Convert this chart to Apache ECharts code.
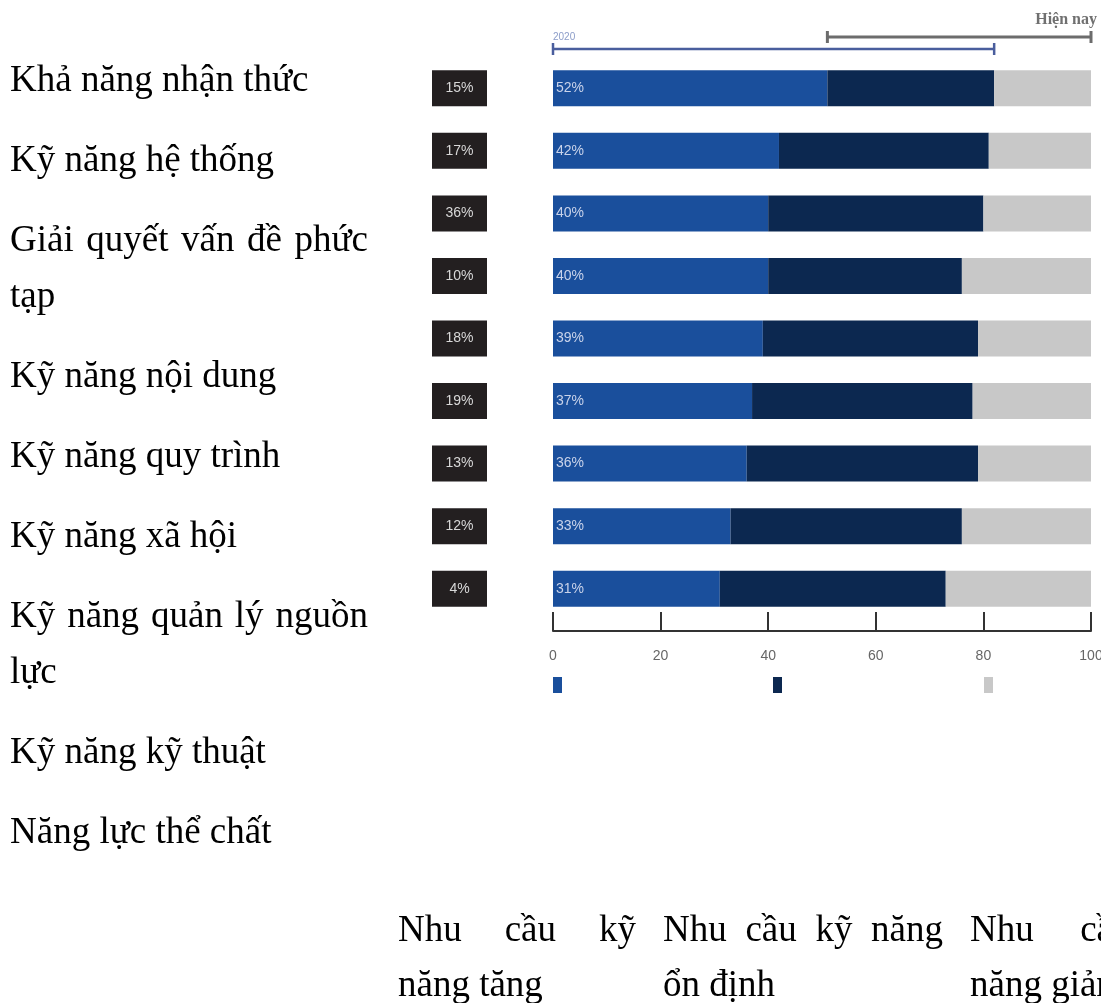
<!DOCTYPE html>
<html>
<head>
<meta charset="utf-8">
<script src="https://cdn.jsdelivr.net/npm/echarts@6/dist/echarts.min.js"></script>
<style>
  html, body { margin: 0; padding: 0; background: #fff; }
  #chart { width: 1101px; height: 1003px; }
</style>
</head>
<body>
<div id="chart"></div>
<script>
// skills, top to bottom (line breaks as in the source document)
var skills = [
    'Khả năng nhận thức',
    'Kỹ năng hệ thống',
    'Giải quyết vấn đề phức\ntạp',
    'Kỹ năng nội dung',
    'Kỹ năng quy trình',
    'Kỹ năng xã hội',
    'Kỹ năng quản lý nguồn\nlực',
    'Kỹ năng kỹ thuật',
    'Năng lực thể chất'
];

// bar rows (top to bottom)
var increase = [51, 42, 40, 40, 39, 37, 36, 33, 31];
var increaseLabels = ['52%', '42%', '40%', '40%', '39%', '37%', '36%', '33%', '31%'];
var stable = [31, 39, 40, 36, 40, 41, 43, 43, 42];
var decrease = [18, 19, 20, 24, 21, 22, 21, 24, 27];
var boxLabels = ['15%', '17%', '36%', '10%', '18%', '19%', '13%', '12%', '4%'];

var seriesNames = ['Nhu cầu kỹ năng tăng', 'Nhu cầu kỹ năng ổn định', 'Nhu cầu kỹ năng giảm'];
var legendTexts = ['Nhu cầu kỹ\nnăng tăng', 'Nhu cầu kỹ năng\nổn định', 'Nhu cầu kỹ\nnăng giảm'];

var xTicks = [0, 20, 40, 60, 80, 100];
var range2020 = [0, 82];
var rangeNow = [51, 100];

var colors = ['#1a4f9c', '#0c2850', '#c8c8c8'];
var serif = '"Liberation Serif", "Times New Roman", serif';
var narrow = '"Liberation Sans Narrow", "Arial Narrow", "Liberation Sans", Arial, sans-serif';

var chart = echarts.init(document.getElementById('chart'));

var measureCtx = document.createElement('canvas').getContext('2d');

// write a paragraph, justified except its last line
function paragraph (text, x, y, width, lineGap, fontSize) {
    var font = fontSize + 'px ' + serif;
    measureCtx.font = font;
    var out = [];
    var lines = text.split('\n');
    lines.forEach(function (line, li) {
        var ly = y + li * lineGap;
        var words = line.split(' ');
        if (li === lines.length - 1 || words.length < 2) {
            out.push({
                type: 'text', x: x, y: ly, silent: true,
                style: { text: line, font: font, fill: '#000', verticalAlign: 'middle' }
            });
            return;
        }
        var total = 0;
        words.forEach(function (w) { total += measureCtx.measureText(w).width; });
        var gap = (width - total) / (words.length - 1);
        var cx = x;
        words.forEach(function (w) {
            out.push({
                type: 'text', x: cx, y: ly, silent: true,
                style: { text: w, font: font, fill: '#000', verticalAlign: 'middle' }
            });
            cx += measureCtx.measureText(w).width + gap;
        });
    });
    return out;
}

var option = {
    animation: false,
    grid: {
        left: 553,
        right: 10,
        top: 57,
        height: 563,
        containLabel: false,
        outerBoundsMode: 'none'
    },
    legend: seriesNames.map(function (name, i) {
        return {
            data: [name],
            left: [553, 773, 984][i],
            top: 677,
            padding: 0,
            icon: 'rect',
            itemWidth: 9,
            itemHeight: 16,
            selectedMode: false,
            formatter: function () { return ''; }
        };
    }),
    xAxis: {
        type: 'value',
        min: 0,
        max: 100,
        interval: 20,
        offset: 11,
        splitLine: { show: false },
        axisLine: { show: true, lineStyle: { color: '#333', width: 2 } },
        axisTick: { show: true, inside: true, length: 19, lineStyle: { color: '#333', width: 2 } },
        axisLabel: {
            margin: 18,
            color: '#666',
            fontSize: 14,
            fontFamily: narrow,
            formatter: function (v) { return xTicks.indexOf(v) >= 0 ? String(v) : ''; }
        }
    },
    yAxis: {
        type: 'category',
        inverse: true,
        data: skills,
        axisLine: { show: false },
        axisTick: { show: false },
        axisLabel: {
            margin: 66,
            formatter: function (v, i) { return '{b|' + boxLabels[i] + '}'; },
            rich: {
                b: {
                    backgroundColor: '#231f20',
                    width: 55,
                    height: 36,
                    lineHeight: 36,
                    align: 'center',
                    color: '#d8d8d8',
                    fontSize: 14,
                    fontFamily: narrow
                }
            }
        }
    },
    series: [
        {
            name: seriesNames[0],
            type: 'bar',
            stack: 'all',
            barWidth: 36,
            itemStyle: { color: colors[0] },
            label: {
                show: true,
                position: 'insideLeft',
                distance: 3,
                color: '#c9d3ea',
                fontSize: 14,
                fontFamily: narrow,
                formatter: function (p) { return increaseLabels[p.dataIndex]; }
            },
            data: increase
        },
        {
            name: seriesNames[1],
            type: 'bar',
            stack: 'all',
            barWidth: 36,
            itemStyle: { color: colors[1] },
            data: stable
        },
        {
            name: seriesNames[2],
            type: 'bar',
            stack: 'all',
            barWidth: 36,
            itemStyle: { color: colors[2] },
            data: decrease
        }
    ]
};

chart.setOption(option);

// annotations that depend on the axis scale
function px (v) { return chart.convertToPixel({ xAxisIndex: 0 }, v); }

function bracket (range, y, color, lw) {
    var x0 = px(range[0]), x1 = px(range[1]);
    var s = { stroke: color, lineWidth: lw };
    return [
        { type: 'line', silent: true, shape: { x1: x0, y1: y, x2: x1, y2: y }, style: s },
        { type: 'line', silent: true, shape: { x1: x0, y1: y - 6, x2: x0, y2: y + 6 }, style: s },
        { type: 'line', silent: true, shape: { x1: x1, y1: y - 6, x2: x1, y2: y + 6 }, style: s }
    ];
}

var graphics = [];
graphics = graphics.concat(bracket(range2020, 49, '#4a5e9d', 2.5));
graphics = graphics.concat(bracket(rangeNow, 37, '#6c6c6c', 3));
graphics.push({
    type: 'text', x: px(range2020[0]), y: 37, silent: true,
    style: { text: '2020', font: '10px ' + narrow, fill: '#8c9dc9', verticalAlign: 'middle' }
});
graphics.push({
    type: 'text', x: 1097, y: 20, silent: true,
    style: { text: 'Hiện nay', font: 'bold 16px ' + serif, fill: '#707070', align: 'right', verticalAlign: 'middle' }
});

// left column of skills
var ly = 81;
skills.forEach(function (s) {
    graphics = graphics.concat(paragraph(s, 10, ly, 358, 56, 37));
    ly += (s.split('\n').length - 1) * 56 + 80;
});

// legend captions under the chart
var colX = [398, 663, 970];
var colW = [238, 280, 245];
legendTexts.forEach(function (t, i) {
    graphics = graphics.concat(paragraph(t, colX[i], 931, colW[i], 55, 37));
});

chart.setOption({ graphic: graphics });
</script>
</body>
</html>
